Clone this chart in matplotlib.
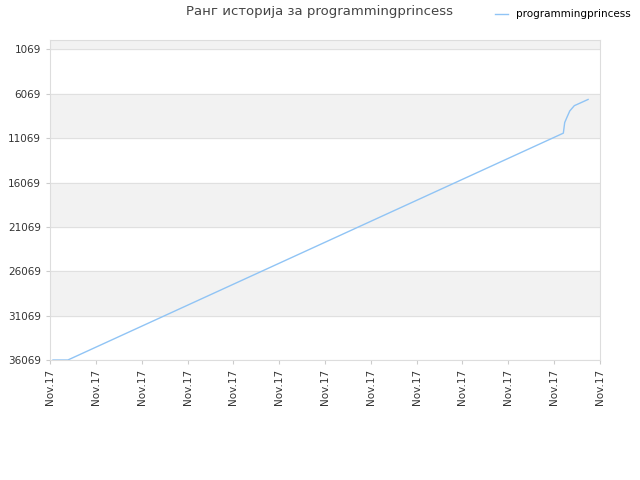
import matplotlib
matplotlib.use("Agg")
import matplotlib.pyplot as plt

xs = [0.065, 0.39, 11.2, 11.23, 11.28, 11.34, 11.44, 11.57, 11.74]
ranks = [36069, 36069, 10500, 9300, 8700, 8000, 7400, 7100, 6700]
yticks = [1069, 6069, 11069, 16069, 21069, 26069, 31069, 36069]
xlabels = ["Nov.17"] * 13

fig = plt.figure(figsize=(6.4, 4.8), dpi=100)
ax = fig.add_axes([50/640, 1-360/480, 550/640, 320/480])
ax.plot(xs, ranks, color="#90c4f5", lw=1, label="programmingprincess")
ax.set_xlim(0, 12)
ax.set_ylim(36069, 0)
ax.axhspan(0, 1069, color="#f2f2f2", zorder=0)
for lo in (6069, 16069, 26069):
    ax.axhspan(lo, lo + 5000, color="#f2f2f2", zorder=0)
for y in yticks:
    ax.axhline(y, color="#e0e0e0", lw=0.8, zorder=0)
ax.set_yticks(yticks)
ax.set_yticklabels([str(v) for v in yticks], fontsize=7.5, color="#333333")
ax.set_xticks(range(13))
ax.set_xticklabels(xlabels, rotation=90, fontsize=7.5, color="#333333")
for s in ax.spines.values():
    s.set_color("#dddddd")
ax.tick_params(length=3, color="#cccccc")
fig.text(0.500, 1-12/480, "Ранг историја за programmingprincess", ha="center", va="center", fontsize=9.5, color="#444444")
fig.legend(loc="upper right", bbox_to_anchor=(1.0, 1.0), frameon=False, fontsize=7.5, handlelength=1.2)
fig.savefig("out.png", dpi=100)
